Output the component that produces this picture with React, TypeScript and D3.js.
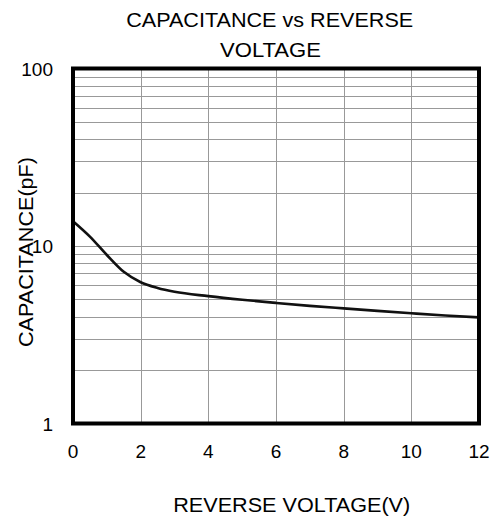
import * as d3 from 'd3';
import { useEffect, useRef } from 'react';

const voltage = [0, 0.5, 1, 1.5, 2, 2.5, 3, 4, 5, 6, 7, 8, 9, 10, 11, 12];
const capacitance = [13.8, 11.3, 8.9, 7.15, 6.25, 5.8, 5.52, 5.22, 4.98, 4.78, 4.6, 4.45, 4.31, 4.18, 4.06, 3.96];
const xTicks = [0, 2, 4, 6, 8, 10, 12];
const yTicks = [1, 10, 100];

const App = () => {
  const svgRef = useRef<SVGSVGElement>(null);

  useEffect(() => {
    if (!svgRef.current) return;

    const width = 502;
    const height = 519;
    const left = 73;
    const right = 479;
    const top = 68.5;
    const bottom = 423.5;
    const font = '"Liberation Sans", Arial, sans-serif';

    const svg = d3.select(svgRef.current)
      .attr('width', width)
      .attr('height', height);
    svg.selectAll('*').remove();

    const x = d3.scaleLinear().domain([0, 12]).range([left, right]);
    const y = d3.scaleLog().domain([1, 100]).range([bottom, top]);

    // horizontal grid on log minors
    const minors: number[] = [];
    [1, 10].forEach((dec) => {
      for (let k = 2; k <= 9; k++) minors.push(dec * k);
    });
    minors.push(10);
    svg.append('g')
      .selectAll('line')
      .data(minors)
      .enter()
      .append('line')
      .attr('x1', left)
      .attr('x2', right)
      .attr('y1', (d) => Math.round(y(d)) + 0.5)
      .attr('y2', (d) => Math.round(y(d)) + 0.5)
      .attr('stroke', '#999')
      .attr('stroke-width', 1);

    // vertical grid
    svg.append('g')
      .selectAll('line')
      .data(xTicks.slice(1, -1))
      .enter()
      .append('line')
      .attr('x1', (d) => Math.round(x(d)) + 0.5)
      .attr('x2', (d) => Math.round(x(d)) + 0.5)
      .attr('y1', top)
      .attr('y2', bottom)
      .attr('stroke', '#999')
      .attr('stroke-width', 1);

    // curve
    const line = d3.line<number>()
      .x((_, i) => x(voltage[i]))
      .y((d) => y(d))
      .curve(d3.curveMonotoneX);
    svg.append('path')
      .datum(capacitance)
      .attr('d', line)
      .attr('fill', 'none')
      .attr('stroke', '#111')
      .attr('stroke-width', 2.6);

    // frame
    svg.append('rect')
      .attr('x', left)
      .attr('y', top)
      .attr('width', right - left)
      .attr('height', bottom - top)
      .attr('fill', 'none')
      .attr('stroke', '#000')
      .attr('stroke-width', 4);

    // tick labels
    svg.append('g')
      .selectAll('text')
      .data(xTicks)
      .enter()
      .append('text')
      .attr('x', (d) => x(d))
      .attr('y', 458)
      .attr('text-anchor', 'middle')
      .attr('font-family', font)
      .attr('font-size', 19)
      .text((d) => d);

    svg.append('g')
      .selectAll('text')
      .data(yTicks)
      .enter()
      .append('text')
      .attr('x', 53)
      .attr('y', (d) => y(d) + 7)
      .attr('text-anchor', 'end')
      .attr('font-family', font)
      .attr('font-size', 19)
      .text((d) => d);

    // titles (the original face is a bit wider than Liberation, so stretch)
    const label = (txt: string, cx: number, cy: number, len: number, rot = false) => {
      svg.append('text')
        .attr('transform', `translate(${cx},${cy})${rot ? ' rotate(-90)' : ''}`)
        .attr('x', -len / 2)
        .attr('textLength', len)
        .attr('lengthAdjust', 'spacingAndGlyphs')
        .attr('font-family', font)
        .attr('font-size', 20)
        .text(txt);
    };
    label('CAPACITANCE vs REVERSE', 269.7, 27, 287);
    label('VOLTAGE', 270.5, 57, 101);
    label('REVERSE VOLTAGE(V)', 291.7, 511.5, 237);
    label('CAPACITANCE(pF)', 33, 252, 190, true);
  }, []);

  return <svg ref={svgRef} style={{ position: 'absolute', left: 0, top: 0 }} />;
};

export default App;
